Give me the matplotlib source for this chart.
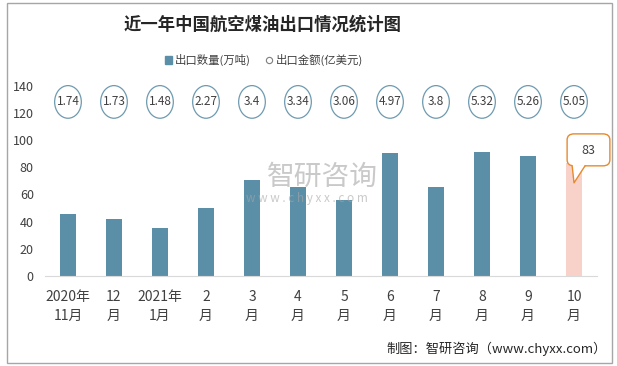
import matplotlib
matplotlib.use('Agg')
import matplotlib.pyplot as plt
from matplotlib.patches import Ellipse, Rectangle, Patch, FancyBboxPatch, Polygon
from matplotlib.lines import Line2D

plt.rcParams['font.family'] = ['Noto Sans CJK SC', 'DejaVu Sans']

months = ['2020年\n11月', '12\n月', '2021年\n1月', '2\n月', '3\n月', '4\n月',
          '5\n月', '6\n月', '7\n月', '8\n月', '9\n月', '10\n月']
volume = [45.6, 42, 35.5, 50, 70.6, 65.4, 55.9, 90.4, 65.4, 91.2, 88.2, 83]
amount = ['1.74', '1.73', '1.48', '2.27', '3.4', '3.34', '3.06', '4.97', '3.8', '5.32', '5.26', '5.05']

bar_color = '#5b8fa7'
last_color = '#f8d2c9'
text_color = '#404040'
call_color = '#e8892c'

fig = plt.figure(figsize=(6.17, 3.66), dpi=100)
ax = fig.add_axes([0.0729, 0.2459, 0.8947, 0.5202])

x = list(range(len(months)))
colors = [bar_color] * (len(x) - 1) + [last_color]
ax.bar(x, volume, width=0.33, color=colors, zorder=2)

# amount values shown in ellipses above the bars
for i, v in zip(x, amount):
    ax.add_patch(Ellipse((i, 128), 0.58, 24, facecolor='white',
                         edgecolor='#6e9ab0', lw=0.9, zorder=3, clip_on=False))
    ax.text(i, 128, v, ha='center', va='center', fontsize=8.5, color=text_color, zorder=4)

# callout for the latest month
cx = x[-1]
ax.add_patch(FancyBboxPatch((cx - 0.15, 81), 0.93, 23.5,
                            boxstyle='round,pad=0,rounding_size=0.15', mutation_aspect=30,
                            fc='white', ec=call_color, lw=1, zorder=5, clip_on=False))
tri = [(cx - 0.04, 81.6), (cx + 0.24, 81.6), (cx, 68.5)]
ax.add_patch(Polygon(tri, closed=True, fc='white', ec='none', zorder=6, clip_on=False))
ax.plot([tri[0][0], tri[2][0], tri[1][0]], [81, tri[2][1], 81], color=call_color,
        lw=1, zorder=7, clip_on=False)
ax.text(cx + 0.31, 92.6, str(volume[-1]), ha='center', va='center', fontsize=9,
        color=text_color, zorder=8)

ax.set_xlim(-0.5, len(x) - 0.5)
ax.set_ylim(0, 140)
ax.set_yticks(range(0, 141, 20))
ax.set_xticks(x)
ax.set_xticklabels(months, fontsize=10, color=text_color, linespacing=1.5)
ax.tick_params(axis='y', length=0, pad=8, labelsize=9, labelcolor=text_color)
ax.tick_params(axis='x', length=0, pad=10)
for s in ['top', 'right', 'left']:
    ax.spines[s].set_visible(False)
ax.spines['bottom'].set_color('#d9d9d9')

fig.text(0.425, 0.932, '近一年中国航空煤油出口情况统计图', ha='center', va='center',
         fontsize=12.5, fontweight='bold', color='#262626')

handles = [Patch(facecolor=bar_color, edgecolor=bar_color),
           Line2D([], [], marker='o', ls='none', markersize=4.5, markerfacecolor='white',
                  markeredgecolor='#7f7f7f', markeredgewidth=0.8)]
fig.legend(handles, ['出口数量(万吨)', '出口金额(亿美元)'], loc='center',
           bbox_to_anchor=(0.428, 0.836), ncol=2, frameon=False, fontsize=8.2,
           handlelength=0.6, handleheight=0.6, handletextpad=0.3, columnspacing=1.3,
           labelcolor=text_color)

# watermark
fig.text(0.522, 0.516, '智研咨询', ha='center', va='center', fontsize=20,
         color='#a6a6a6', alpha=0.6, zorder=10)
fig.text(0.497, 0.458, 'w w w . c h y x x . c o m', ha='center', va='center', fontsize=8.5,
         color='#a6a6a6', alpha=0.6, zorder=10)

fig.text(0.984, 0.046, '制图：智研咨询（www.chyxx.com）', ha='right', va='center',
         fontsize=9.5, color='#262626')

fig.patches.append(Rectangle((0.0113, 0.0082), 0.9806, 0.9836, transform=fig.transFigure,
                             fill=False, edgecolor='#a6a6a6', lw=1))

fig.savefig('out.png', dpi=100)
